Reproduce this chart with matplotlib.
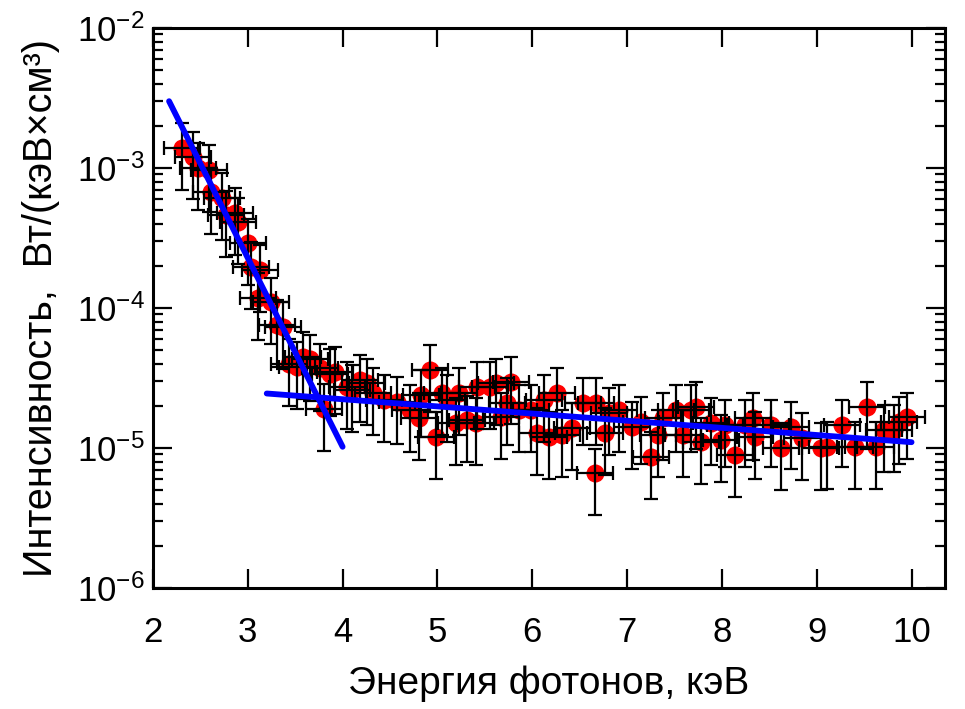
import matplotlib

matplotlib.use("Agg")
import matplotlib.pyplot as plt
import numpy as np
from matplotlib.ticker import FixedLocator, FixedFormatter, LogLocator, NullFormatter

plt.rcParams["font.family"] = ["Liberation Sans", "DejaVu Sans"]
plt.rcParams["mathtext.fontset"] = "custom"
plt.rcParams["mathtext.rm"] = "Liberation Sans"
plt.rcParams["mathtext.default"] = "regular"

# photon energy, keV
energy = [
    2.31, 2.42, 2.48, 2.59, 2.61, 2.73, 2.77, 2.87, 2.90, 3.00,
    3.03, 3.13, 3.11, 3.24, 3.31, 3.37, 3.43, 3.52, 3.58, 3.66,
    3.76, 3.87, 3.80, 3.92, 4.05, 4.10, 4.18, 4.26, 4.32, 4.44,
    4.57, 4.71, 4.81, 4.83, 4.92, 4.99, 5.05, 5.10, 5.20, 5.23,
    5.31, 5.41, 5.42, 5.55, 5.62, 5.67, 5.73, 5.78, 5.86, 5.99,
    6.05, 6.12, 6.18, 6.26, 6.31, 6.42, 6.54, 6.67, 6.66, 6.77,
    6.81, 6.91, 7.05, 7.15, 7.25, 7.33, 7.38, 7.52, 7.59, 7.67,
    7.73, 7.78, 7.89, 7.99, 8.03, 8.14, 8.24, 8.33, 8.35, 8.52,
    8.62, 8.73, 8.85, 9.04, 9.11, 9.27, 9.40, 9.53, 9.62, 9.71,
    9.82, 9.87, 9.95,
]
# intensity, W/(keV cm^3)
intensity = [
    1.39e-3, 1.20e-3, 1.00e-3, 9.7e-4, 6.7e-4, 6.1e-4, 4.6e-4, 4.8e-4, 4.1e-4, 2.9e-4,
    1.96e-4, 1.87e-4, 1.18e-4, 1.10e-4, 7.6e-5, 7.3e-5, 4.0e-5, 3.8e-5, 4.5e-5, 4.3e-5,
    3.7e-5, 3.4e-5, 1.9e-5, 3.5e-5, 2.73e-5, 2.6e-5, 3.06e-5, 2.9e-5, 2.47e-5, 2.2e-5,
    2.13e-5, 1.87e-5, 1.64e-5, 2.4e-5, 3.6e-5, 1.2e-5, 2.47e-5, 2.2e-5, 1.51e-5, 2.47e-5,
    1.58e-5, 1.51e-5, 2.73e-5, 2.73e-5, 2.9e-5, 1.66e-5, 2.1e-5, 2.96e-5, 1.87e-5, 1.87e-5,
    1.28e-5, 2.2e-5, 1.2e-5, 2.47e-5, 1.24e-5, 1.39e-5, 2.1e-5, 2.1e-5, 6.6e-6, 1.28e-5,
    1.78e-5, 1.87e-5, 1.41e-5, 1.53e-5, 8.6e-6, 1.24e-5, 1.64e-5, 1.87e-5, 1.24e-5, 1.87e-5,
    1.96e-5, 1.1e-5, 1.51e-5, 1.14e-5, 1.46e-5, 8.9e-6, 1.46e-5, 1.64e-5, 1.2e-5, 1.46e-5,
    1.0e-5, 1.41e-5, 1.18e-5, 1.0e-5, 1.02e-5, 1.46e-5, 1.02e-5, 1.96e-5, 1.02e-5, 1.35e-5,
    1.35e-5, 1.53e-5, 1.66e-5,
]
energy_err = 0.19      # keV, half width
intensity_rel_err = 0.5

# exponential fits: steep low-energy part and flat tail
fit_low_x = [2.17, 4.0]
fit_low_y = [3.0e-3, 1.02e-5]
fit_high_x = [3.2, 10.0]
fit_high_y = [2.45e-5, 1.1e-5]

y_ticks = [1e-6, 1e-5, 1e-4, 1e-3, 1e-2]
y_tick_labels = [r"$10^{-6}$", r"$10^{-5}$", r"$10^{-4}$", r"$10^{-3}$", r"$10^{-2}$"]
x_ticks = [2, 3, 4, 5, 6, 7, 8, 9, 10]

x = np.asarray(energy)
y = np.asarray(intensity)

fig = plt.figure(figsize=(9.65, 7.09), dpi=100)
ax = fig.add_axes([0.1585, 0.1707, 0.8205, 0.7898])

ax.plot(x, y, "o", color="#ff0000", markersize=13, markeredgewidth=0, zorder=2)
ax.errorbar(x, y, xerr=energy_err, yerr=y * intensity_rel_err, fmt="none",
            ecolor="black", elinewidth=1.6, capsize=5, capthick=1.6, zorder=3)
ax.plot(fit_low_x, fit_low_y, color="#0000ff", linewidth=4.2, solid_capstyle="round", zorder=4)
ax.plot(fit_high_x, fit_high_y, color="#0000ff", linewidth=4.2, solid_capstyle="round", zorder=4)

ax.set_yscale("log")
ax.set_xlim(2, 10.35)
ax.set_ylim(1e-6, 1e-2)

ax.xaxis.set_major_locator(FixedLocator(x_ticks))
ax.yaxis.set_major_locator(FixedLocator(y_ticks))
ax.yaxis.set_major_formatter(FixedFormatter(y_tick_labels))
ax.yaxis.set_minor_locator(LogLocator(base=10, subs=np.arange(2, 10)))
ax.yaxis.set_minor_formatter(NullFormatter())

for side in ax.spines.values():
    side.set_linewidth(2.2)

ax.tick_params(which="both", direction="in", top=True, right=True, width=1.6)
ax.tick_params(which="major", length=14)
ax.tick_params(which="minor", length=7)
ax.tick_params(axis="x", labelsize=25, pad=20)
ax.tick_params(axis="y", labelsize=25, pad=6)

ax.set_xlabel("Энергия фотонов, кэВ", fontsize=28, labelpad=12)
ax.set_ylabel("Интенсивность,  Вт/(кэВ×см³)", fontsize=28.5, labelpad=12)

fig.savefig("out.png", dpi=100, facecolor="white")
plt.close(fig)
